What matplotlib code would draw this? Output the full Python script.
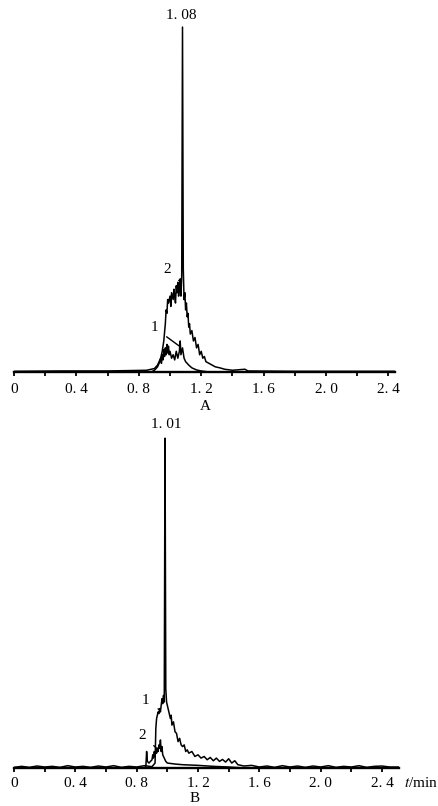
import matplotlib
matplotlib.use("Agg")
import matplotlib.pyplot as plt

plt.rcParams['font.family'] = ['Liberation Serif', 'DejaVu Serif']

# ---------------- data ----------------
tick_vals = [0, 0.4, 0.8, 1.2, 1.6, 2.0, 2.4]
tick_labels = ["0", "0. 4", "0. 8", "1. 2", "1. 6", "2. 0", "2. 4"]

# Panel A, trace 2 (large)
a2_t = [0.00, 0.30, 0.60, 0.85, 0.90, 0.92, 0.94, 0.95, 0.96, 0.97, 0.975, 0.98, 0.985,
        0.99, 1.00, 1.005, 1.01, 1.02, 1.025, 1.03, 1.035, 1.04, 1.045, 1.05, 1.055,
        1.06, 1.065, 1.07, 1.075, 1.08, 1.085, 1.09, 1.095, 1.10, 1.105, 1.11, 1.115,
        1.12, 1.125, 1.13, 1.14, 1.15, 1.16, 1.17, 1.18, 1.19, 1.20, 1.21, 1.22, 1.23,
        1.25, 1.27, 1.29, 1.32, 1.35, 1.40, 1.48, 1.50, 1.80, 2.44]
a2_y = [0.2, 0.3, 0.3, 0.5, 1, 2, 4, 6, 9, 14, 18, 17, 21,
        20, 22, 19, 23, 21, 24, 22, 20, 25, 23, 26, 22,
        24, 27, 22, 28, 100, 30, 21, 23, 18, 20, 16, 17,
        13, 14, 11, 12, 9, 10, 7, 8, 5, 6, 4, 4.5, 3,
        2.5, 2, 1.5, 1.2, 0.8, 0.5, 0.8, 0.3, 0.2, 0.2]

# Panel A, trace 1 (small)
a1_t = [0.88, 0.90, 0.92, 0.93, 0.94, 0.945, 0.95, 0.955, 0.96, 0.965, 0.97, 0.975, 0.98,
        0.985, 0.99, 0.995, 1.00, 1.01, 1.02, 1.03, 1.04, 1.05, 1.06, 1.065, 1.07,
        1.08, 1.09, 1.10, 1.12, 1.14, 1.17, 1.20, 1.25]
a1_y = [0, 0.5, 1.5, 2.5, 4, 2.5, 5, 3.5, 6.5, 4.5, 7, 5, 8,
        5.5, 7.5, 5, 6, 4, 5, 3.5, 6, 4, 6, 9, 5,
        7, 4, 3, 2, 1.2, 0.6, 0.3, 0]

# Panel B, trace 1 (large)
b1_t = [0.00, 0.05, 0.10, 0.15, 0.20, 0.25, 0.30, 0.35, 0.40, 0.45, 0.50, 0.55, 0.60,
        0.65, 0.70, 0.75, 0.80, 0.85, 0.90, 0.92, 0.925, 0.93, 0.935, 0.94, 0.945,
        0.95, 0.955, 0.96, 0.965, 0.97, 0.975, 0.98, 0.985, 0.99, 0.995, 1.00, 1.01,
        1.02, 1.025, 1.03, 1.04, 1.05, 1.06, 1.07, 1.08, 1.09, 1.10, 1.11, 1.12, 1.13,
        1.14, 1.16, 1.18, 1.20, 1.22, 1.24, 1.26, 1.28, 1.30, 1.32, 1.34, 1.36, 1.38,
        1.40, 1.42, 1.44, 1.46, 1.50, 1.55, 1.60, 1.65, 1.70, 1.75, 1.80, 1.85, 1.90,
        1.95, 2.00, 2.05, 2.10, 2.15, 2.20, 2.25, 2.30, 2.35, 2.40, 2.45, 2.51]
b1_y = [0.2, 0.5, 0.2, 0.6, 0.3, 0.5, 0.2, 0.7, 0.3, 0.5, 0.2, 0.6, 0.3,
        0.7, 0.2, 0.5, 0.3, 0.7, 0.4, 1.5, 12, 15, 16, 17, 16.5,
        18, 17, 19, 21, 19.5, 22, 20, 100, 24, 20, 19, 17,
        15, 16, 13, 14, 11, 10.5, 8, 9, 7, 6.5, 7, 5, 5.5,
        4.5, 5, 3.5, 4, 3, 3.5, 2.5, 3.2, 2.2, 3, 2, 2.6, 1.8,
        2.8, 1.5, 2.2, 1.0, 0.6, 0.8, 0.3, 0.6, 0.2, 0.7, 0.3, 0.6, 0.2,
        0.6, 0.3, 0.7, 0.2, 0.5, 0.3, 0.7, 0.2, 0.5, 0.6, 0.3, 0.3]

# Panel B, trace 2 (small)
b2_t = [0.85, 0.86, 0.865, 0.87, 0.88, 0.90, 0.905, 0.91, 0.915, 0.92, 0.925, 0.93, 0.935,
        0.94, 0.945, 0.95, 0.955, 0.96, 0.965, 0.97, 0.98, 0.99, 1.00, 1.05, 1.10,
        1.20, 1.30, 1.40, 1.50]
b2_y = [0, 0.5, 5, 2, 1.5, 2.5, 4, 3, 5, 3.5, 5.5, 4.5, 6,
        5, 7, 6, 8.5, 5, 6.5, 4, 3, 2, 1.5, 1.2, 1,
        0.8, 0.5, 0.3, 0]

peak_a = (1.08, "1. 08")
peak_b = (0.985, "1. 01")

# ---------------- figure ----------------
W, H = 438, 806
fig = plt.figure(figsize=(W / 100, H / 100), dpi=100)
fig.patch.set_facecolor("white")
LW = 1.1
FS = 11


def make_axes(x0, x1, ybase, ytop, xmax, ymax, pad):
    ax = fig.add_axes([x0 / W, (H - ybase) / H, (x1 - x0) / W, (ybase - ytop) / H])
    ax.set_xlim(0, xmax)
    ax.set_ylim(0, ymax)
    for s in ("top", "right", "left"):
        ax.spines[s].set_visible(False)
    ax.spines["bottom"].set_linewidth(1.7)
    ax.set_yticks([])
    ax.tick_params(axis="x", direction="out", length=3, width=1.3, pad=pad, labelsize=FS)
    ax.patch.set_alpha(0)
    return ax


def label_ticks(ax):
    ticks = [0.2 * i for i in range(13)]
    labs = []
    for t in ticks:
        lab = ""
        for v, l in zip(tick_vals, tick_labels):
            if abs(v - t) < 1e-6:
                lab = l
        labs.append(lab)
    ax.set_xticks(ticks)
    ax.set_xticklabels(labs)


arrow = dict(arrowstyle="-", lw=1.0, color="black", shrinkA=5, shrinkB=0)

# Panel A
axA = make_axes(14, 395, 372, 5, 2.442, 106.4, 5)
label_ticks(axA)
axA.plot(a2_t, a2_y, color="black", lw=LW)
axA.plot(a1_t, a1_y, color="black", lw=LW)
axA.text(peak_a[0] - 0.01, 103.5, peak_a[1], ha="center", va="center", fontsize=FS)
axA.annotate("2", xy=(1.07, 26), xytext=(0.98, 29.6), ha="center", va="center",
             fontsize=FS, arrowprops=arrow)
axA.annotate("1", xy=(1.06, 7.5), xytext=(0.90, 12.8), ha="center", va="center",
             fontsize=FS, arrowprops=arrow)
fig.text(205 / W, 1 - 406 / H, "A", ha="center", va="center", fontsize=FS)

# Panel B
axB = make_axes(14, 399, 768, 420, 2.511, 105.5, 3.5)
label_ticks(axB)
axB.plot(b1_t, b1_y, color="black", lw=LW)
axB.plot(b2_t, b2_y, color="black", lw=LW)
axB.text(peak_b[0] + 0.01, 104, peak_b[1], ha="center", va="center", fontsize=FS)
axB.annotate("1", xy=(0.95, 17.6), xytext=(0.86, 20.6), ha="center", va="center",
             fontsize=FS, arrowprops=arrow)
axB.annotate("2", xy=(0.93, 6), xytext=(0.835, 10), ha="center", va="center",
             fontsize=FS, arrowprops=arrow)
fig.text(421 / W, 1 - 783 / H, "$t$/min", ha="center", va="center", fontsize=FS,
         math_fontfamily="stix")
fig.text(195 / W, 1 - 798 / H, "B", ha="center", va="center", fontsize=FS)

fig.savefig("out.png", dpi=100, facecolor="white")
